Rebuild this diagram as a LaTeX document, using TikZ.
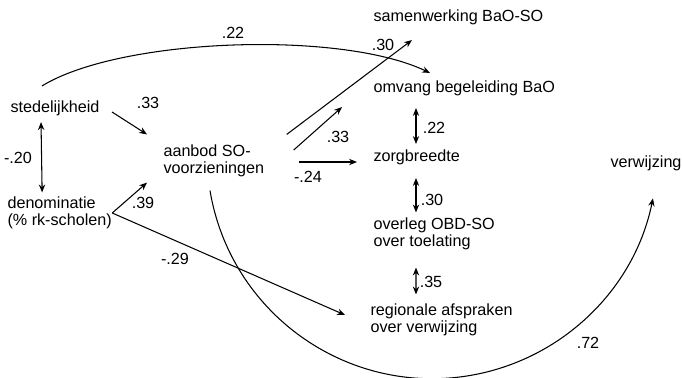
\documentclass[tikz,border=0pt]{standalone}
\usepackage{fontspec}
\setmainfont{Liberation Sans}
\usetikzlibrary{arrows.meta}
\begin{document}
\begin{tikzpicture}[>={Stealth[length=4.5pt,width=3.6pt]}, line width=0.6pt,
	font=\fontsize{9.2}{9.7}\selectfont,
	var/.style = {anchor=west, inner sep=0pt, align=left},
	coef/.style = {inner sep=0pt}]
	\useasboundingbox (0,0) rectangle (13.64,-7.56);
	
	\node[var] (sted) at (0.2,-2.16) {stedelijkheid};
	\node[var] (den) at (0.14,-4.26) {denominatie\\(\% rk-scholen)};
	\node[var] (aanbod) at (3.26,-3.22) {aanbod SO-\\voorzieningen};
	
	\node[var] (samen) at (7.46,-0.34) {samenwerking BaO-SO};
	\node[var] (omvang) at (7.46,-1.76) {omvang begeleiding BaO};
	\node[var] (zorg) at (7.46,-3.14) {zorgbreedte};
	\node[var] (overleg) at (7.46,-4.67) {overleg OBD-SO\\over toelating};
	\node[var] (regio) at (7.40,-6.40) {regionale afspraken\\over verwijzing};
	
	\node[var] (verw) at (12.2,-3.26) {verwijzing};
	
	\node[coef] (c1) at (4.66,-0.66) {.22};
	\node[coef] (c2) at (2.96,-2.06) {.33};
	\node[coef] (c3) at (0.36,-3.16) {-.20};
	\node[coef] (c4) at (2.86,-4.06) {.39};
	\node[coef] (c5) at (3.5,-5.18) {-.29};
	\node[coef] (c6) at (7.66,-0.9) {.30};
	\node[coef] (c7) at (6.76,-2.74) {.33};
	\node[coef] (c8) at (6.16,-3.54) {-.24};
	\node[coef] (c9) at (8.68,-2.56) {.22};
	\node[coef] (c10) at (8.64,-4.0) {.30};
	\node[coef] (c11) at (8.62,-5.64) {.35};
	\node[coef] (c12) at (11.76,-6.86) {.72};
	
	
	\draw[->] ([shift={(0.24,-0.08)}]sted.east) -- ([shift={(-0.32,0.2)}]aanbod.north west);
	\draw[->] (den.east) -- ([shift={(-0.32,-0.1)}]aanbod.south west);
	\draw[<->] ([shift={(-0.28,-0.12)}]sted.south) -- ([shift={(-0.35,0.08)}]den.north);
	\draw[->] ([shift={(-0.26,0.28)}]sted.north) .. controls (2.4,-0.76) and (6.8,-0.6) .. ([shift={(1.14,0.14)}]omvang.north west);
	\draw[->] (den.east) -- ([shift={(-0.5,0.1)}]regio.west);
	
	\draw[->] ([shift={(0.44,0.2)}]aanbod.north east) -- ([shift={(0.78,-0.3)}]samen.south west);
	\draw[->] ([shift={(0.58,0.22)}]aanbod.east) -- ([shift={(-0.62,-0.22)}]omvang.south west);
	\draw[->] ([shift={(0.68,-0.02)}]aanbod.east) -- ([shift={(-0.32,-0.1)}]zorg.west);
	\draw[->] ([shift={(0.94,-0.26)}]aanbod.south west) arc[start angle=189.5, end angle=348.5, radius=4.506];
	
	\draw[<->] ([shift={(0.86,-0.24)}]omvang.south west) -- ([shift={(0.86,0.1)}]zorg.north west);
	\draw[<->] ([shift={(0.86,-0.26)}]zorg.south west) -- ([shift={(0.86,0.09)}]overleg.north west);
	\draw[<->] ([shift={(0.86,-0.35)}]overleg.south west) -- ([shift={(0.92,0.18)}]regio.north west);
	
	
\end{tikzpicture}
\end{document}
